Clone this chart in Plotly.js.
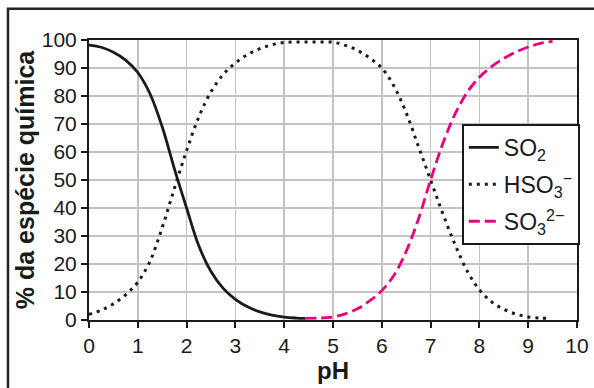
<!DOCTYPE html>
<html>
<head>
<meta charset="utf-8">
<script src="https://cdn.plot.ly/plotly-3.0.1.min.js"></script>
<style>
html,body{margin:0;padding:0;background:#fff;}
#chart{width:594px;height:388px;}
</style>
</head>
<body>
<div id="chart"></div>
<script>
// pH values and % of each species
const pH_SO2 = [0, 0.25, 0.5, 0.75, 1, 1.25, 1.5, 1.75, 2, 2.25, 2.5, 2.75, 3, 3.25, 3.5, 3.75, 4, 4.25, 4.43];
const SO2    = [98.2, 97.4, 95.6, 92.8, 88.4, 80.8, 69, 54, 40, 26.5, 17.3, 11.3, 7.4, 4.7, 2.9, 1.7, 1.0, 0.7, 0.6];

const pH_HSO3 = [0, 0.25, 0.5, 0.75, 1, 1.25, 1.5, 1.75, 2, 2.25, 2.5, 2.75, 3, 3.25, 3.5, 3.75, 4, 4.25, 4.5, 4.75, 5, 5.25, 5.5, 5.75, 6, 6.25, 6.5, 6.75, 7, 7.25, 7.5, 7.75, 8, 8.25, 8.5, 8.75, 9, 9.25, 9.4];
const HSO3    = [2, 3.5, 5.8, 9, 13.5, 21, 33, 47, 60.5, 72.5, 81.5, 87.7, 91.8, 94.8, 96.9, 98.3, 99.1, 99.3, 99.3, 99.3, 99.2, 98.1, 96.3, 93.6, 90, 83.5, 74, 62, 50, 38, 27, 17.5, 10.8, 6.5, 3.8, 2.1, 1.1, 0.7, 0.6];

const pH_SO3 = [4.43, 4.75, 5, 5.25, 5.5, 5.75, 6, 6.25, 6.5, 6.75, 7, 7.25, 7.5, 7.75, 8, 8.25, 8.5, 8.75, 9, 9.25, 9.5];
const SO3    = [0.6, 0.7, 1.1, 2.2, 4, 6.8, 10.5, 16, 24.5, 36, 50, 63, 73.5, 81.3, 86.7, 90.5, 93.4, 95.7, 97.5, 98.8, 99.5];

const names = ['SO<sub>2</sub>', 'HSO<sub>3</sub><sup>−</sup>', 'SO<sub>3</sub><sup>2−</sup>'];
const xTicks = [0,1,2,3,4,5,6,7,8,9,10];
const yTicks = [0,10,20,30,40,50,60,70,80,90,100];

const FONT = 'Liberation Sans, Arial, Helvetica, sans-serif';

const traces = [
  {x: pH_SO2, y: SO2, name: names[0], mode: 'lines', legendgroup: 'a',
   line: {color: '#1a1a1a', width: 2.8, shape: 'spline', smoothing: 1}},
  {x: pH_HSO3, y: HSO3, name: names[1], mode: 'lines', legendgroup: 'b',
   line: {color: '#1a1a1a', width: 3, dash: '3px,5px', shape: 'spline', smoothing: 1}},
  {x: pH_SO3, y: SO3, name: names[2], mode: 'lines', legendgroup: 'c',
   line: {color: '#e5007e', width: 2.8, dash: '11px,5px', shape: 'spline', smoothing: 1}}
];

const layout = {
  width: 594, height: 388,
  margin: {l: 89, r: 17, t: 40, b: 68},
  paper_bgcolor: '#fff', plot_bgcolor: '#fff',
  font: {family: FONT, color: '#1a1a1a', size: 21},
  showlegend: true,
  legend: {
    x: 0.764, y: 0.7, xanchor: 'left', yanchor: 'top',
    bgcolor: '#fff', bordercolor: '#1a1a1a', borderwidth: 2,
    font: {family: FONT, size: 23, color: '#1a1a1a'},
    traceorder: 'grouped', tracegroupgap: 4
  },
  xaxis: {
    range: [0, 10], tickvals: xTicks, ticktext: xTicks.map(String),
    showgrid: true, gridcolor: '#c3c3c3', gridwidth: 1.5,
    showline: true, linecolor: '#1a1a1a', linewidth: 2, mirror: true,
    ticks: 'outside', ticklen: 6, tickwidth: 2, tickcolor: '#1a1a1a',
    tickfont: {family: FONT, size: 21, color: '#1a1a1a'},
    zeroline: false, fixedrange: true,
    title: {text: '<b>pH</b>', font: {family: FONT, size: 24, color: '#1a1a1a'}, standoff: 2}
  },
  yaxis: {
    range: [0, 100], tickvals: yTicks, ticktext: yTicks.map(String),
    showgrid: true, gridcolor: '#c3c3c3', gridwidth: 1.5,
    showline: true, linecolor: '#1a1a1a', linewidth: 2, mirror: true,
    ticks: 'outside', ticklen: 6, tickwidth: 2, tickcolor: '#1a1a1a',
    tickfont: {family: FONT, size: 21, color: '#1a1a1a'},
    zeroline: false, fixedrange: true,
    title: {text: '<b>% da espécie química</b>', font: {family: FONT, size: 25, color: '#1a1a1a'}, standoff: 0}
  },
  shapes: [
    {type: 'rect', xref: 'paper', yref: 'paper',
     x0: -0.166, x1: 1.06, y0: -0.3, y1: 1.112,
     line: {color: '#222', width: 2.5}, fillcolor: 'rgba(0,0,0,0)', layer: 'above'}
  ]
};

Plotly.newPlot('chart', traces, layout, {displayModeBar: false, staticPlot: true});
</script>
</body>
</html>
